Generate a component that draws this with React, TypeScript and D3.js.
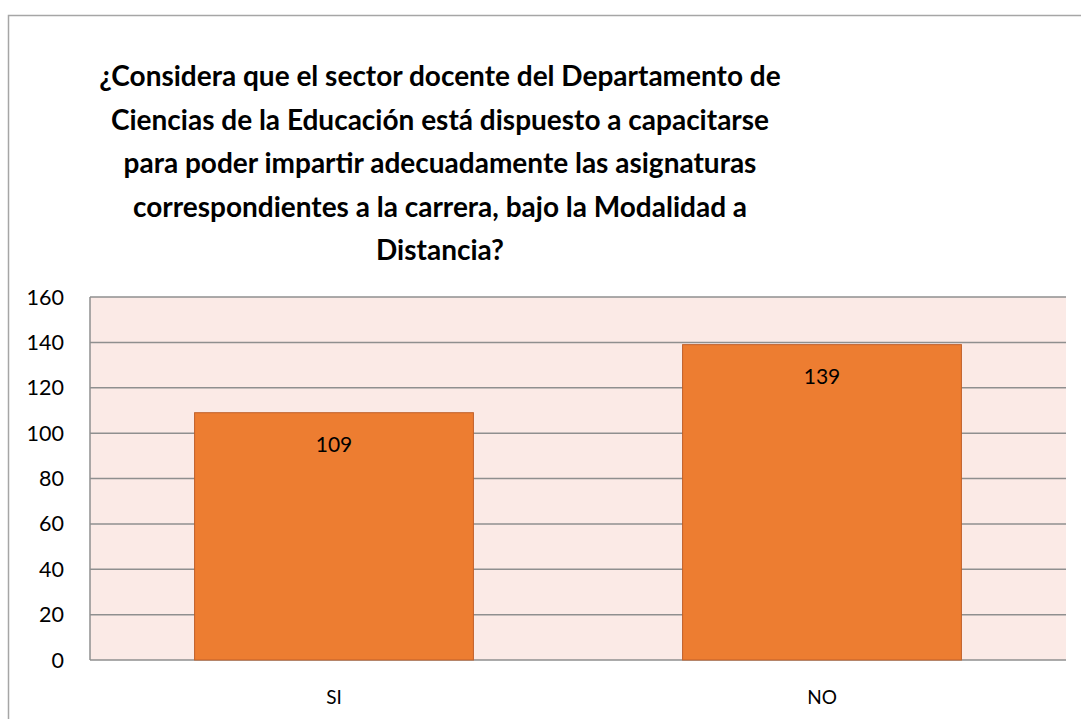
import React from "react";
import * as d3 from "d3";

const categories = ["SI", "NO"];
const values = [109, 139];
const yTicks = [0, 20, 40, 60, 80, 100, 120, 140, 160];
const titleLines = [
  "¿Considera que el sector docente del Departamento de",
  "Ciencias de la Educación está dispuesto a capacitarse",
  "para poder impartir adecuadamente las asignaturas",
  "correspondientes a la carrera, bajo la Modalidad a",
  "Distancia?",
];

export default function App() {
  const W = 1081, H = 719;
  const left = 90, right = 1066, top = 297, bottom = 660;
  const x = d3.scaleBand().domain(categories).range([left, right]).paddingInner(0.4286).paddingOuter(0.2143);
  const y = d3.scaleLinear().domain([0, 160]).range([bottom, top]);
  const font = "Lato, 'Open Sans', sans-serif";
  return (
    <svg width={W} height={H} style={{ position: "absolute", left: 0, top: 0 }}>
      <rect x={0} y={0} width={W} height={H} fill="#fff" />
      <rect x={8.5} y={15.5} width={1100} height={800} fill="#fff" stroke="#a6a6a6" strokeWidth={1.5} />
      {titleLines.map((t, i) => (
        <text key={i} x={440} y={86 + i * 43.5} textAnchor="middle" fontFamily={font} fontWeight="bold" fontSize={28} fill="#000">
          {t}
        </text>
      ))}
      <rect x={left} y={top} width={right - left} height={bottom - top} fill="#FBEAE6" />
      {yTicks.map((t) => (
        <g key={t}>
          <line x1={left} x2={right} y1={y(t)} y2={y(t)} stroke="#8f8f8f" strokeWidth={1.5} />
          <text x={64} y={y(t) + 7.5} textAnchor="end" fontFamily={font} fontSize={21.5} fill="#000">{t}</text>
        </g>
      ))}
      <line x1={left} x2={left} y1={top} y2={bottom} stroke="#8f8f8f" strokeWidth={1.5} />
      {categories.map((c, i) => (
        <g key={c}>
          <rect x={x(c)!} y={y(values[i])} width={x.bandwidth()} height={bottom - y(values[i])} fill="#ED7D31" stroke="#C0602A" strokeWidth={1} />
          <text x={x(c)! + x.bandwidth() / 2} y={y(values[i]) + 39} textAnchor="middle" fontFamily={font} fontSize={21} fill="#000">{values[i]}</text>
          <text x={x(c)! + x.bandwidth() / 2} y={704} textAnchor="middle" fontFamily={font} fontSize={19} fill="#000">{c}</text>
        </g>
      ))}
    </svg>
  );
}
